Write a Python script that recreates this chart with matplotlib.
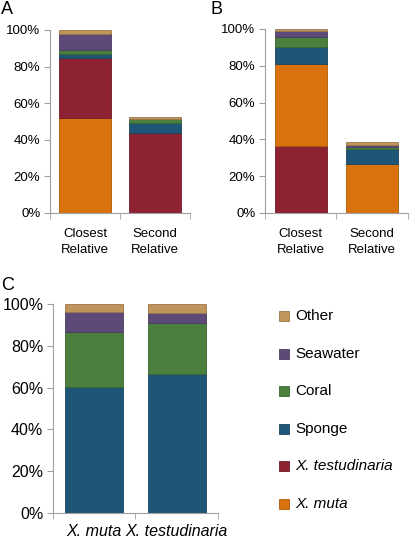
import matplotlib.pyplot as plt
import matplotlib.colors as mc
import numpy as np

plt.rcParams['font.family'] = ['Liberation Sans', 'DejaVu Sans']

# Series order (bottom to top) and colours
colors = {
    'X. muta': '#D9720C',
    'X. testudinaria': '#8C2232',
    'Sponge': '#1F5576',
    'Coral': '#4A7F3D',
    'Seawater': '#5E4A78',
    'Other': '#C0955C',
}

# Panel A
a_labels = ['Closest\nRelative', 'Second\nRelative']
a_order = ['X. muta', 'X. testudinaria', 'Sponge', 'Coral', 'Seawater', 'Other']
a_values = {
    'X. muta': [52.0, 0.0],
    'X. testudinaria': [32.5, 43.5],
    'Sponge': [2.2, 5.5],
    'Coral': [2.3, 2.2],
    'Seawater': [8.6, 0.3],
    'Other': [2.4, 0.8],
}

# Panel B
b_labels = ['Closest\nRelative', 'Second\nRelative']
b_order = ['X. testudinaria', 'X. muta', 'Sponge', 'Coral', 'Seawater', 'Other']
b_values = {
    'X. testudinaria': [36.2, 0.0],
    'X. muta': [44.8, 26.6],
    'Sponge': [9.2, 8.3],
    'Coral': [5.2, 1.1],
    'Seawater': [3.3, 0.9],
    'Other': [1.3, 1.6],
}

# Panel C
c_labels = ['X. muta', 'X. testudinaria']
c_order = ['Sponge', 'Coral', 'Seawater', 'Other']
c_values = {
    'Sponge': [60.1, 66.3],
    'Coral': [26.6, 24.7],
    'Seawater': [9.5, 4.5],
    'Other': [3.8, 4.5],
}

fig = plt.figure(figsize=(4.1, 5.4), dpi=100)
W, H = 410, 540


def add_axes(x0, x1, ytop, ybot):
    return fig.add_axes([x0 / W, 1 - ybot / H, (x1 - x0) / W, (ybot - ytop) / H])


def darker(c, f=0.8):
    r, g, b = mc.to_rgb(c)
    return (r * f, g * f, b * f)


def stacked(ax, labels, order, values, width, fs, italic=False):
    x = np.arange(len(labels))
    bottom = np.zeros(len(labels))
    for name in order:
        v = np.array(values[name])
        ax.bar(x, v, width, bottom=bottom, color=colors[name],
               edgecolor=darker(colors[name]), linewidth=0.6)
        bottom += v
    ax.set_xlim(-0.5, len(labels) - 0.5)
    ax.set_ylim(0, 100)
    ax.set_yticks(np.arange(0, 101, 20))
    ax.set_yticklabels([f'{t}%' for t in range(0, 101, 20)])
    ax.set_xticks([-0.5, 0.5, 1.5], minor=True)
    ax.set_xticks(x)
    ax.set_xticklabels(labels, style='italic' if italic else 'normal',
                       linespacing=1.4)
    ax.tick_params(axis='x', which='major', length=0, pad=11, labelsize=fs)
    ax.tick_params(axis='x', which='minor', length=4, color='#A0A0A0')
    ax.tick_params(axis='y', length=4, color='#A0A0A0', labelsize=fs, pad=3)
    for s in ['top', 'right']:
        ax.spines[s].set_visible(False)
    for s in ['left', 'bottom']:
        ax.spines[s].set_color('#A0A0A0')


axA = add_axes(50, 190, 30, 213)
stacked(axA, a_labels, a_order, a_values, 0.73, 9.5)
axB = add_axes(265, 408, 29, 213)
stacked(axB, b_labels, b_order, b_values, 0.73, 9.5)
axC = add_axes(53, 218, 304, 513)
stacked(axC, c_labels, c_order, c_values, 0.7, 11.5, italic=True)
axC.tick_params(axis='x', pad=8)

fig.text(1 / W, 1 - 10 / H, 'A', fontsize=13, va='center')
fig.text(211 / W, 1 - 10 / H, 'B', fontsize=13, va='center')
fig.text(1 / W, 1 - 286 / H, 'C', fontsize=13, va='center')

# Legend
leg_names = ['Other', 'Seawater', 'Coral', 'Sponge', 'X. testudinaria', 'X. muta']
for i, name in enumerate(leg_names):
    y = 1 - (316 + i * 37.5) / H
    fig.patches.append(plt.Rectangle((279 / W, y - 5 / H), 10 / W, 10 / H,
                                     transform=fig.transFigure,
                                     facecolor=colors[name],
                                     edgecolor=darker(colors[name]), linewidth=0.6))
    fig.text(295 / W, y, name, fontsize=11, va='center',
             style='italic' if name.startswith('X.') else 'normal')

fig.savefig('out.png', dpi=100)
